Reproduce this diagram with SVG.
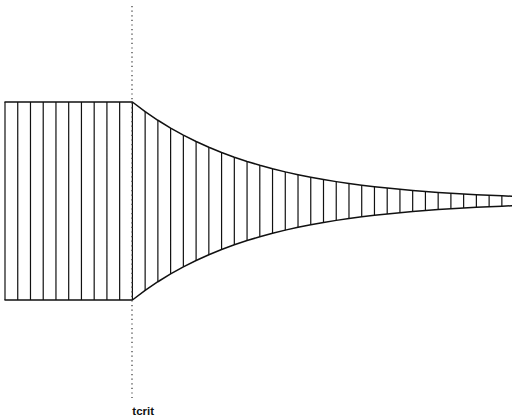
<svg xmlns="http://www.w3.org/2000/svg" width="512" height="417" viewBox="0 0 512 417">
<style>
.bg{fill:#fff}
.rung{stroke:#111;stroke-width:1.2;fill:none}
.edge{stroke:#111;stroke-width:1.5;fill:none;stroke-linejoin:round;stroke-linecap:round}
.crit{stroke:#333;stroke-width:1.2;stroke-dasharray:1.2 3.4;fill:none}
.lbl{font-family:"Liberation Sans",Arial,sans-serif;font-size:11.5px;font-weight:bold;fill:#111}
</style>
<rect class="bg" x="0" y="0" width="512" height="417"/>
<g id="rungs">
<path class="rung" d="M5,102V300 M17.74,102V300 M30.48,102V300 M43.22,102V300 M55.96,102V300 M68.7,102V300 M81.44,102V300 M94.18,102V300 M106.92,102V300 M119.66,102V300 M132.4,102V300
M145.14,111.59V290.41 M157.88,120.26V281.74 M170.62,128.08V273.92 M183.36,135.15V266.85 M196.1,141.53V260.47 M208.84,147.29V254.71 M221.58,152.5V249.5 M234.32,157.2V244.8 M247.06,161.44V240.56 M259.8,165.27V236.73 M272.54,168.74V233.26 M285.28,171.86V230.14 M298.02,174.68V227.32 M310.76,177.23V224.77 M323.5,179.54V222.46 M336.24,181.62V220.38 M348.98,183.5V218.5 M361.72,185.19V216.81 M374.46,186.72V215.28 M387.2,188.11V213.89 M399.94,189.36V212.64 M412.68,190.48V211.52 M425.42,191.5V210.5 M438.16,192.42V209.58 M450.9,193.25V208.75 M463.64,194.01V207.99 M476.38,194.68V207.32 M489.12,195.3V206.7 M501.86,195.85V206.15"/>
</g>
<g id="outline">
<path class="edge" d="M5,102 L132.4,102 L145.14,111.59 L157.88,120.26 L170.62,128.08 L183.36,135.15 L196.1,141.53 L208.84,147.29 L221.58,152.5 L234.32,157.2 L247.06,161.44 L259.8,165.27 L272.54,168.74 L285.28,171.86 L298.02,174.68 L310.76,177.23 L323.5,179.54 L336.24,181.62 L348.98,183.5 L361.72,185.19 L374.46,186.72 L387.2,188.11 L399.94,189.36 L412.68,190.48 L425.42,191.5 L438.16,192.42 L450.9,193.25 L463.64,194.01 L476.38,194.68 L489.12,195.3 L501.86,195.85 L512,196.25"/>
<path class="edge" d="M5,300 L132.4,300 L145.14,290.41 L157.88,281.74 L170.62,273.92 L183.36,266.85 L196.1,260.47 L208.84,254.71 L221.58,249.5 L234.32,244.8 L247.06,240.56 L259.8,236.73 L272.54,233.26 L285.28,230.14 L298.02,227.32 L310.76,224.77 L323.5,222.46 L336.24,220.38 L348.98,218.5 L361.72,216.81 L374.46,215.28 L387.2,213.89 L399.94,212.64 L412.68,211.52 L425.42,210.5 L438.16,209.58 L450.9,208.75 L463.64,208.01 L476.38,207.32 L489.12,206.7 L501.86,206.15 L512,205.75"/>
</g>
<g id="tcrit">
<line class="crit" x1="132" y1="6" x2="132" y2="398"/>
<text class="lbl" x="132.3" y="415">tcrit</text>
</g>
</svg>
